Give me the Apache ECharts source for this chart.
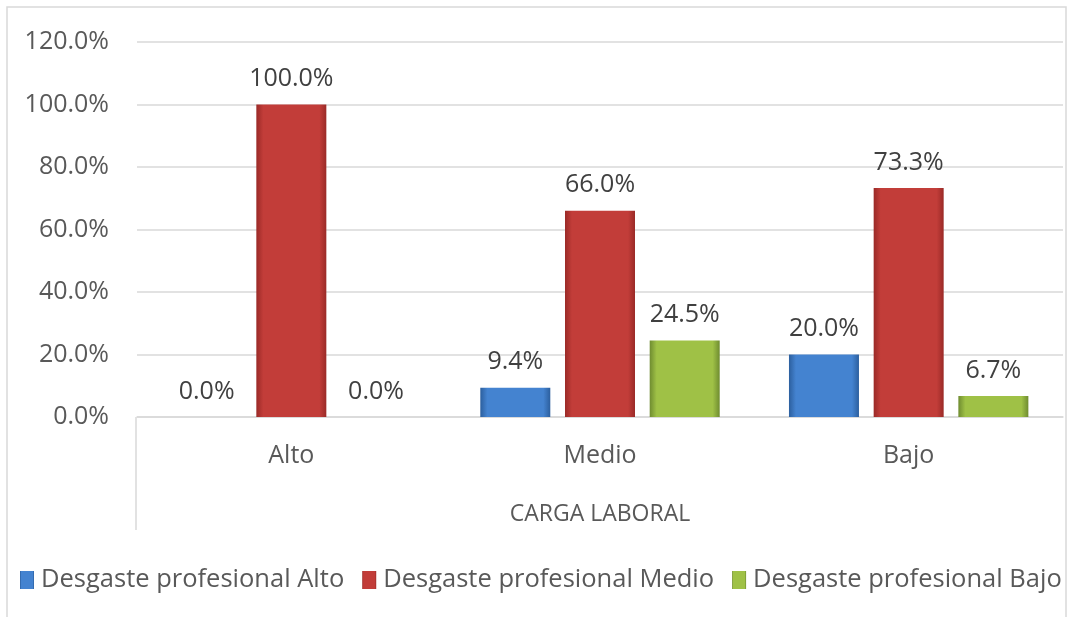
<!DOCTYPE html>
<html>
<head>
<meta charset="utf-8">
<script src="https://cdn.jsdelivr.net/npm/echarts@6/dist/echarts.min.js"></script>
<style>
  html, body { margin: 0; padding: 0; background: #fff; }
  #chart { width: 1068px; height: 617px; }
</style>
</head>
<body>
<div id="chart"></div>
<script>
const categories = ['Alto', 'Medio', 'Bajo'];
const seriesNames = ['Desgaste profesional Alto', 'Desgaste profesional Medio', 'Desgaste profesional Bajo'];
const alto = [0, 9.4, 20.0];
const medio = [100.0, 66.0, 73.3];
const bajo = [0, 24.5, 6.7];
const yTicks = [0, 20, 40, 60, 80, 100, 120];

const textColor = '#595959';
const lineColor = '#d9d9d9';
const font = 'Open Sans';

// colores: borde oscuro, centro claro (efecto bisel de Excel)
const palette = [
  ['#2c5f9e', '#4483d0'],
  ['#9a2a27', '#c23d39'],
  ['#6f8c30', '#9fc146']
];

function bevel(pair) {
  return new echarts.graphic.LinearGradient(0, 0, 1, 0, [
    { offset: 0, color: pair[0] },
    { offset: 0.1, color: pair[1] },
    { offset: 0.9, color: pair[1] },
    { offset: 1, color: pair[0] }
  ]);
}

function makeSeries(name, data, idx) {
  return {
    name: name,
    type: 'bar',
    data: data,
    barWidth: 70,
    barGap: '21%',
    itemStyle: { color: bevel(palette[idx]) },
    label: {
      show: true,
      position: 'top',
      distance: 13,
      color: '#404040',
      fontFamily: font,
      fontSize: 25,
      formatter: p => p.value.toFixed(1) + '%'
    }
  };
}

const chart = echarts.init(document.getElementById('chart'));
chart.setOption({
  animation: false,
  textStyle: { fontFamily: font },
  color: palette.map(p => p[1]),
  grid: { left: 137, right: 5, top: 42, bottom: 200, containLabel: false },
  legend: {
    data: seriesNames.map((n, i) => ({ name: n, itemStyle: { color: bevel(palette[i]) } })),
    left: 20,
    bottom: 24,
    width: 1060,
    padding: 0,
    itemWidth: 14,
    itemHeight: 18,
    itemGap: 18,
    icon: 'rect',
    textStyle: { color: textColor, fontSize: 25.5, fontFamily: font, padding: [0, 0, 0, 2] }
  },
  xAxis: {
    type: 'category',
    data: categories,
    name: 'CARGA LABORAL',
    nameLocation: 'middle',
    nameGap: 86,
    nameTextStyle: { color: textColor, fontSize: 23, fontFamily: font },
    axisLine: { show: true, lineStyle: { color: lineColor, width: 1.5 } },
    axisTick: { show: false },
    axisLabel: { color: textColor, fontSize: 25, margin: 26, fontFamily: font }
  },
  yAxis: {
    type: 'value',
    min: yTicks[0],
    max: yTicks[yTicks.length - 1],
    interval: 20,
    axisLine: { show: false },
    axisTick: { show: false },
    splitLine: { lineStyle: { color: lineColor, width: 1.5 } },
    axisLabel: {
      color: textColor,
      fontSize: 25,
      fontFamily: font,
      margin: 28,
      formatter: v => v.toFixed(1) + '%'
    }
  },
  graphic: [
    {
      type: 'rect',
      shape: { x: 7, y: 7, width: 1059, height: 640 },
      style: { fill: null, stroke: lineColor, lineWidth: 1.5 },
      silent: true
    },
    {
      type: 'line',
      shape: { x1: 136, y1: 417, x2: 136, y2: 530 },
      style: { stroke: lineColor, lineWidth: 1.5 },
      silent: true
    }
  ],
  series: [
    makeSeries(seriesNames[0], alto, 0),
    makeSeries(seriesNames[1], medio, 1),
    makeSeries(seriesNames[2], bajo, 2)
  ]
});
</script>
</body>
</html>
